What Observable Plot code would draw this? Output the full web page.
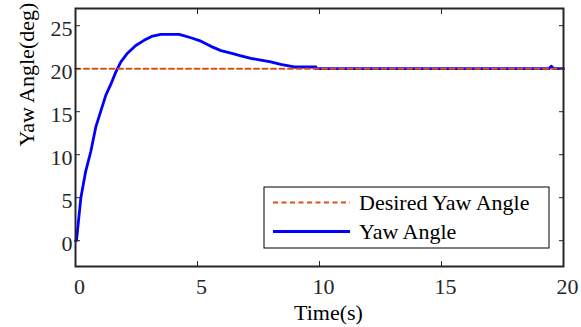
<!DOCTYPE html>
<html><head><meta charset="utf-8">
<script src="https://cdn.jsdelivr.net/npm/d3@7"></script>
<script src="https://cdn.jsdelivr.net/npm/@observablehq/plot@0.6"></script>
<style>
body{margin:0;background:#fff;font-family:"Liberation Serif","Times New Roman",Times,"DejaVu Serif",serif;}
#wrap{position:relative;width:581px;height:327px;}
#wrap svg, #wrap svg text{font-family:"Liberation Serif","Times New Roman",Times,"DejaVu Serif",serif !important;}
</style></head><body><div id="wrap"></div>
<script>
const timeS  = [0, 0.04, 0.22, 0.42, 0.63, 0.83, 1.04, 1.24, 1.45, 1.65, 1.86, 2.13, 2.47, 2.81, 3.16, 3.5, 4.25, 4.73, 5.14, 5.55, 5.96, 6.37, 6.78, 7.19, 7.6, 8.0, 8.41, 8.96, 9.85, 9.86, 19.4, 19.5, 19.6, 20];
const yawDeg = [0, 0, 5.0, 8.1, 10.4, 13.2, 15.1, 16.9, 18.2, 19.6, 20.8, 21.8, 22.7, 23.3, 23.8, 24.0, 24.0, 23.6, 23.2, 22.6, 22.1, 21.8, 21.5, 21.2, 21.0, 20.8, 20.5, 20.2, 20.2, 20.0, 20.0, 20.3, 20.0, 20.0];
const desiredYaw = 20;
const xTicks = [0, 5, 10, 15, 20];
const yTicks = [0, 5, 10, 15, 20, 25];
const seriesNames = ["Desired Yaw Angle", "Yaw Angle"];
const xLabel = "Time(s)";
const yLabel = "Yaw Angle(deg)";

const ink = "#262626";
const blue = "#0000ff";
const orange = "#D95319";
const font = '"Liberation Serif","Times New Roman",Times,"DejaVu Serif",serif';

const yawData = timeS.map((t, i) => ({t, v: yawDeg[i]}));
const desiredData = [xTicks[0], xTicks[xTicks.length - 1]].map(t => ({t, v: desiredYaw}));

const chart = Plot.plot({
  width: 581, height: 327,
  marginLeft: 75, marginRight: 18, marginTop: 8, marginBottom: 61,
  style: {fontFamily: font, fontSize: "22px", color: ink, background: "white", overflow: "visible"},
  x: {domain: [0, 20]},
  y: {domain: [-3, 27]},
  marks: [
    Plot.line(yawData, {x: "t", y: "v", stroke: blue, strokeWidth: 2.8}),
    Plot.line(desiredData, {x: "t", y: "v", stroke: orange, strokeWidth: 2, strokeDasharray: "5,3.5"}),
    Plot.frame({stroke: ink, strokeWidth: 2}),
    Plot.axisX(xTicks, {anchor: "bottom", tickSize: 5, dy: -5, tickFormat: () => "", label: null, stroke: ink}),
    Plot.axisX(xTicks, {anchor: "top", tickSize: 5, dy: 5, tickFormat: () => "", label: null, stroke: ink}),
    Plot.axisY(yTicks, {anchor: "left", tickSize: 5, dx: 5, tickFormat: () => "", label: null, stroke: ink}),
    Plot.axisY(yTicks, {anchor: "right", tickSize: 5, dx: -5, tickFormat: () => "", label: null, stroke: ink}),
    Plot.axisX(xTicks, {anchor: "bottom", tickSize: 0, tickPadding: 12, label: null, dx: 4, fill: ink}),
    Plot.axisY(yTicks, {anchor: "left", tickSize: 0, tickPadding: 3, label: null, dy: 3, fill: ink}),
    Plot.text([xLabel], {frameAnchor: "bottom", lineAnchor: "middle", dx: 9, dy: 46, fill: "#000", fontSize: 22}),
    Plot.text([yLabel], {frameAnchor: "left", lineAnchor: "middle", rotate: -90, dx: -49, dy: 9, fill: "#000", fontSize: 22})
  ]
});
document.getElementById("wrap").appendChild(chart);

// legend box inside the plot area
const svg = d3.select(chart);
const lg = svg.append("g").attr("transform", "translate(264,187)");
lg.append("rect").attr("width", 285).attr("height", 61).attr("fill", "white").attr("stroke", "#000").attr("stroke-width", 1);
const items = [
  {name: seriesNames[0], stroke: orange, dash: "5,3.5", w: 2},
  {name: seriesNames[1], stroke: blue, dash: null, w: 2.8}
];
items.forEach((d, i) => {
  const yy = 15.5 + i * 29;
  lg.append("line").attr("x1", 9).attr("x2", 86).attr("y1", yy).attr("y2", yy)
    .attr("stroke", d.stroke).attr("stroke-width", d.w).attr("stroke-dasharray", d.dash);
  lg.append("text").attr("x", 95).attr("y", yy + 7.5).attr("text-anchor", "start").text(d.name)
    .attr("font-size", 22).attr("fill", "#000");
});
</script>
</body></html>
